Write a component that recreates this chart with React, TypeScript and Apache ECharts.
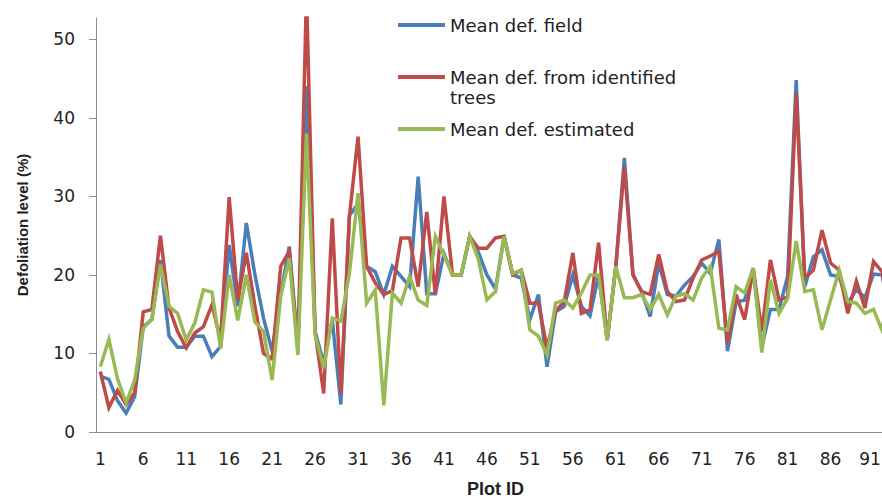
import React, { useEffect, useRef } from "react";
import * as echarts from "echarts";

const plotIds: string[] = Array.from({ length: 93 }, (_, i) => String(i + 1));

const meanField: number[] = [
  7.1, 6.7, 4.0, 2.4, 4.5, 13.4, 14.3, 21.9, 12.2, 10.8,
  10.8, 12.2, 12.2, 9.6, 10.9, 23.8, 16.0, 26.6, 20.0, 14.5,
  10.3, 17.5, 23.6, 11.0, 44.0, 12.8, 8.8, 14.3, 3.5, 27.6,
  29.0, 21.1, 20.4, 17.5, 21.1, 19.8, 18.5, 32.5, 17.6, 17.6,
  22.7, 20.0, 20.0, 24.9, 22.9, 20.0, 18.2, 24.9, 20.0, 19.6,
  14.3, 17.5, 8.3, 15.3, 16.0, 20.0, 16.0, 14.8, 20.0, 11.7,
  21.0, 34.9, 20.0, 17.9, 14.7, 21.5, 17.5, 17.3, 18.7, 19.8,
  21.5, 20.2, 24.5, 10.3, 16.5, 16.8, 20.8, 10.8, 15.6, 15.6,
  19.8, 44.8, 18.5, 22.3, 23.2, 20.0, 19.8, 16.4, 18.1, 17.1,
  20.1, 20.0, 14.0,
];

const meanIdentified: number[] = [
  7.7, 3.1, 5.3, 3.5, 5.0, 15.3, 15.6, 25.0, 15.8, 12.8,
  10.7, 12.6, 13.4, 16.2, 11.7, 29.9, 16.8, 22.8, 16.0, 10.0,
  9.3, 21.1, 23.0, 10.5, 56.0, 12.8, 4.9, 27.2, 4.9, 27.5,
  37.6, 21.1, 19.0, 17.5, 18.0, 24.7, 24.7, 18.5, 28.0, 17.5,
  30.0, 20.0, 20.0, 24.9, 23.4, 23.4, 24.7, 24.9, 20.0, 20.6,
  16.4, 16.4, 10.7, 15.4, 16.6, 22.8, 15.1, 15.6, 24.1, 11.7,
  21.0, 33.8, 20.0, 17.9, 17.5, 22.6, 17.9, 16.6, 16.8, 19.6,
  21.9, 22.4, 23.0, 11.3, 17.5, 14.3, 20.8, 12.8, 21.9, 16.8,
  17.2, 43.1, 19.6, 20.6, 25.7, 21.5, 20.6, 15.1, 19.2, 15.8,
  21.7, 20.4, 13.0,
];

const meanEstimated: number[] = [
  8.3, 11.8, 6.8, 3.7, 6.6, 13.2, 14.4, 21.3, 16.0, 15.1,
  11.7, 13.9, 18.1, 17.8, 10.6, 20.0, 14.2, 20.0, 14.0, 12.8,
  6.6, 17.3, 22.1, 9.8, 38.0, 12.4, 8.1, 14.5, 14.1, 20.2,
  30.4, 16.4, 18.1, 3.4, 17.7, 16.4, 19.8, 16.8, 16.1, 24.9,
  22.5, 20.0, 20.0, 24.9, 22.0, 16.8, 17.9, 24.9, 20.2, 20.6,
  13.0, 12.2, 9.8, 16.4, 16.8, 15.8, 17.7, 20.0, 20.0, 11.7,
  21.1, 17.1, 17.1, 17.5, 15.6, 17.5, 14.9, 17.3, 17.6, 16.8,
  19.6, 21.1, 13.2, 13.0, 18.5, 17.7, 20.9, 10.1, 19.4, 15.1,
  17.0, 24.3, 17.9, 18.1, 13.0, 16.8, 20.6, 16.6, 16.4, 15.1,
  15.6, 12.9, 20.0,
];

const yTicks: number[] = [0, 10, 20, 30, 40, 50];

const seriesNames = ["Mean def. field", "Mean def. from identified trees", "Mean def. estimated"];
const colors = ["#4a7ebb", "#be4b48", "#98b954"];

export default function App() {
  const ref = useRef<HTMLDivElement>(null);
  useEffect(() => {
    if (!ref.current) return;
    const chart = echarts.init(ref.current, undefined, { renderer: "svg" });
    const legendText = {
      fontFamily: "DejaVu Sans",
      fontSize: 18,
      color: "#222",
      lineHeight: 20,
    };
    const mkLegend = (name: string, top: number, label?: string) => ({
      data: [name],
      orient: "vertical",
      left: 398,
      top,
      padding: 0,
      icon: "rect",
      itemWidth: 47,
      itemHeight: 4,
      itemGap: 0,
      selectedMode: false,
      textStyle: legendText,
      formatter: label ? () => label : undefined,
    });
    chart.setOption({
      animation: false,
      backgroundColor: "#ffffff",
      color: colors,
      grid: {
        left: 96,
        top: 18,
        bottom: 68,
        right: -13,
        containLabel: false,
        outerBoundsMode: "none",
      },
      legend: [
        mkLegend(seriesNames[0], 15),
        mkLegend(seriesNames[1], 67, "Mean def. from identified"),
        mkLegend(seriesNames[2], 119),
      ],
      graphic: [
        {
          type: "text",
          left: 450,
          top: 88,
          style: { text: "trees", font: "18px 'DejaVu Sans'", fill: "#222" },
        },
      ],
      xAxis: {
        type: "category",
        data: plotIds,
        boundaryGap: true,
        name: "Plot ID",
        nameLocation: "middle",
        nameGap: 48,
        nameTextStyle: {
          fontFamily: "Liberation Sans",
          fontWeight: "bold",
          fontSize: 18,
          color: "#222",
        },
        axisLine: { lineStyle: { color: "#8c8c8c", width: 1 } },
        axisTick: { show: false },
        axisLabel: {
          interval: 4,
          margin: 18,
          fontFamily: "DejaVu Sans",
          fontSize: 17,
          color: "#222",
          formatter: (v: string) => (v === "91" ? "{e|91}" : v),
          rich: {
            e: {
              fontFamily: "DejaVu Sans",
              fontSize: 17,
              color: "#222",
              padding: [0, 7, 0, 0],
            },
          },
        },
        splitLine: { show: false },
      },
      yAxis: {
        type: "value",
        min: 0,
        max: 52.7,
        interval: 10,
        name: "Defoliation level (%)",
        nameLocation: "middle",
        nameRotate: 90,
        nameGap: 66,
        nameTextStyle: {
          fontFamily: "Liberation Sans",
          fontWeight: "bold",
          fontSize: 15,
          color: "#222",
        },
        axisLine: { show: true, lineStyle: { color: "#8c8c8c", width: 1 } },
        axisTick: { show: true, length: 7, customValues: yTicks, lineStyle: { color: "#8c8c8c" } },
        axisLabel: {
          margin: 21,
          customValues: yTicks,
          fontFamily: "DejaVu Sans",
          fontSize: 17,
          color: "#222",
          formatter: (v: number) => (yTicks.indexOf(v) >= 0 ? String(v) : ""),
        },
        splitLine: { show: false },
      },
      series: [
        { name: seriesNames[0], type: "line", data: meanField },
        { name: seriesNames[1], type: "line", data: meanIdentified },
        { name: seriesNames[2], type: "line", data: meanEstimated },
      ].map((s, i) => ({
        ...s,
        symbol: "none",
        clip: true,
        lineStyle: { width: 3.5, color: colors[i], join: "miter" },
        itemStyle: { color: colors[i] },
      })),
    });
    return () => chart.dispose();
  }, []);
  return (
    <div
      ref={ref}
      style={{ position: "fixed", left: 0, top: 0, width: 882, height: 500 }}
    />
  );
}
